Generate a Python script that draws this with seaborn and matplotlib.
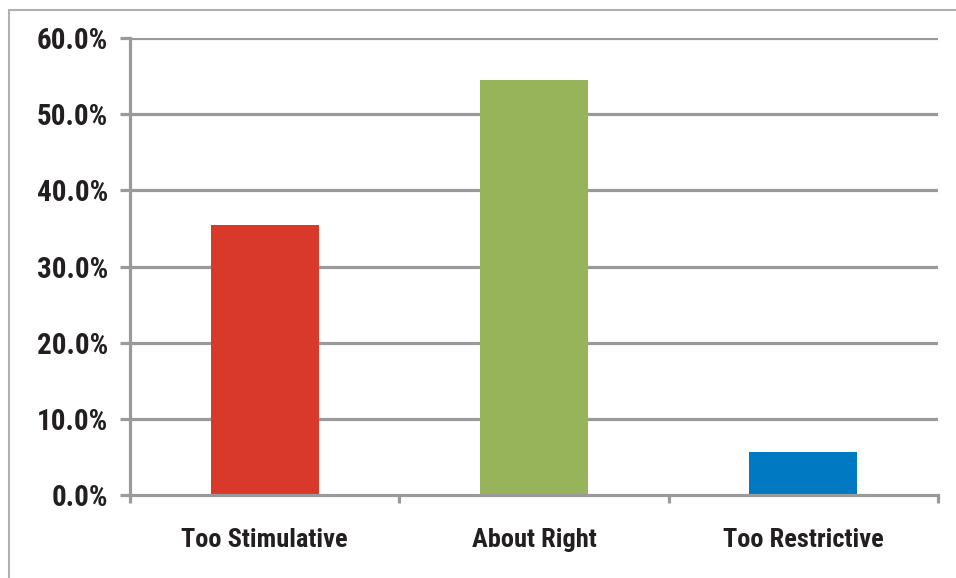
import matplotlib
matplotlib.use("Agg")
import matplotlib.pyplot as plt
from matplotlib.ticker import FuncFormatter
from matplotlib.patches import Rectangle
from matplotlib import font_manager
import pandas as pd
import seaborn as sns

categories = ["Too Stimulative", "About Right", "Too Restrictive"]
shares = [35.5, 54.5, 5.7]
colors = ["#d9392a", "#98b45b", "#0079c2"]
yticks = [0, 10, 20, 30, 40, 50, 60]

df = pd.DataFrame({"category": categories, "share": shares})

sns.set_theme(style="white")
installed = {f.name for f in font_manager.fontManager.ttflist}
narrow = [n for n in ["Roboto Condensed", "Liberation Sans Narrow", "Open Sans Condensed",
                      "Liberation Sans"] if n in installed]
plt.rcParams["font.family"] = narrow[:1] + ["DejaVu Sans"]

grey = "#9a9a9a"
fig = plt.figure(figsize=(9.56, 5.78), dpi=100)
ax = fig.add_axes([130 / 956, 1 - 495 / 578, 808 / 956, 457 / 578])

sns.barplot(data=df, x="category", y="share", hue="category", palette=colors,
            width=0.4, saturation=1, legend=False, ax=ax, zorder=3, linewidth=0)

ax.set_ylim(0, 60)
ax.set_xlim(-0.5, 2.5)
ax.set_yticks(yticks)
ax.yaxis.set_major_formatter(FuncFormatter(lambda v, _: f"{v:.1f}%"))
ax.set_xlabel("")
ax.set_ylabel("")

# horizontal gridlines
for t in yticks[1:]:
    ax.axhline(t, color=grey, lw=2.3, zorder=1)

for s in ["top", "right"]:
    ax.spines[s].set_visible(False)
for s in ["left", "bottom"]:
    ax.spines[s].set_color(grey)
    ax.spines[s].set_linewidth(2.3)
    ax.spines[s].set_zorder(4)

# category separators as ticks on the x axis
ax.set_xticks([-0.5, 0.5, 1.5, 2.5], minor=True)
ax.set_xticks([0, 1, 2])
ax.set_xticklabels(categories)
ax.tick_params(axis="x", which="major", length=0, pad=24, labelsize=19,
               labelcolor="#231f20")
ax.tick_params(axis="x", which="minor", length=6, width=2.3, color=grey,
               direction="out", bottom=True)
ax.tick_params(axis="y", length=7, width=2.3, color=grey, direction="out",
               left=True, pad=9, labelsize=21, labelcolor="#231f20")
for lab in ax.get_xticklabels() + ax.get_yticklabels():
    lab.set_fontweight("bold")

# light outer frame
fig.patches.append(Rectangle((9 / 956, -0.05), 1.2, 1 - 10 / 578 + 0.05,
                             transform=fig.transFigure, fill=False,
                             edgecolor="#b0b0b0", lw=1.5))

fig.savefig("out.png", dpi=100)
